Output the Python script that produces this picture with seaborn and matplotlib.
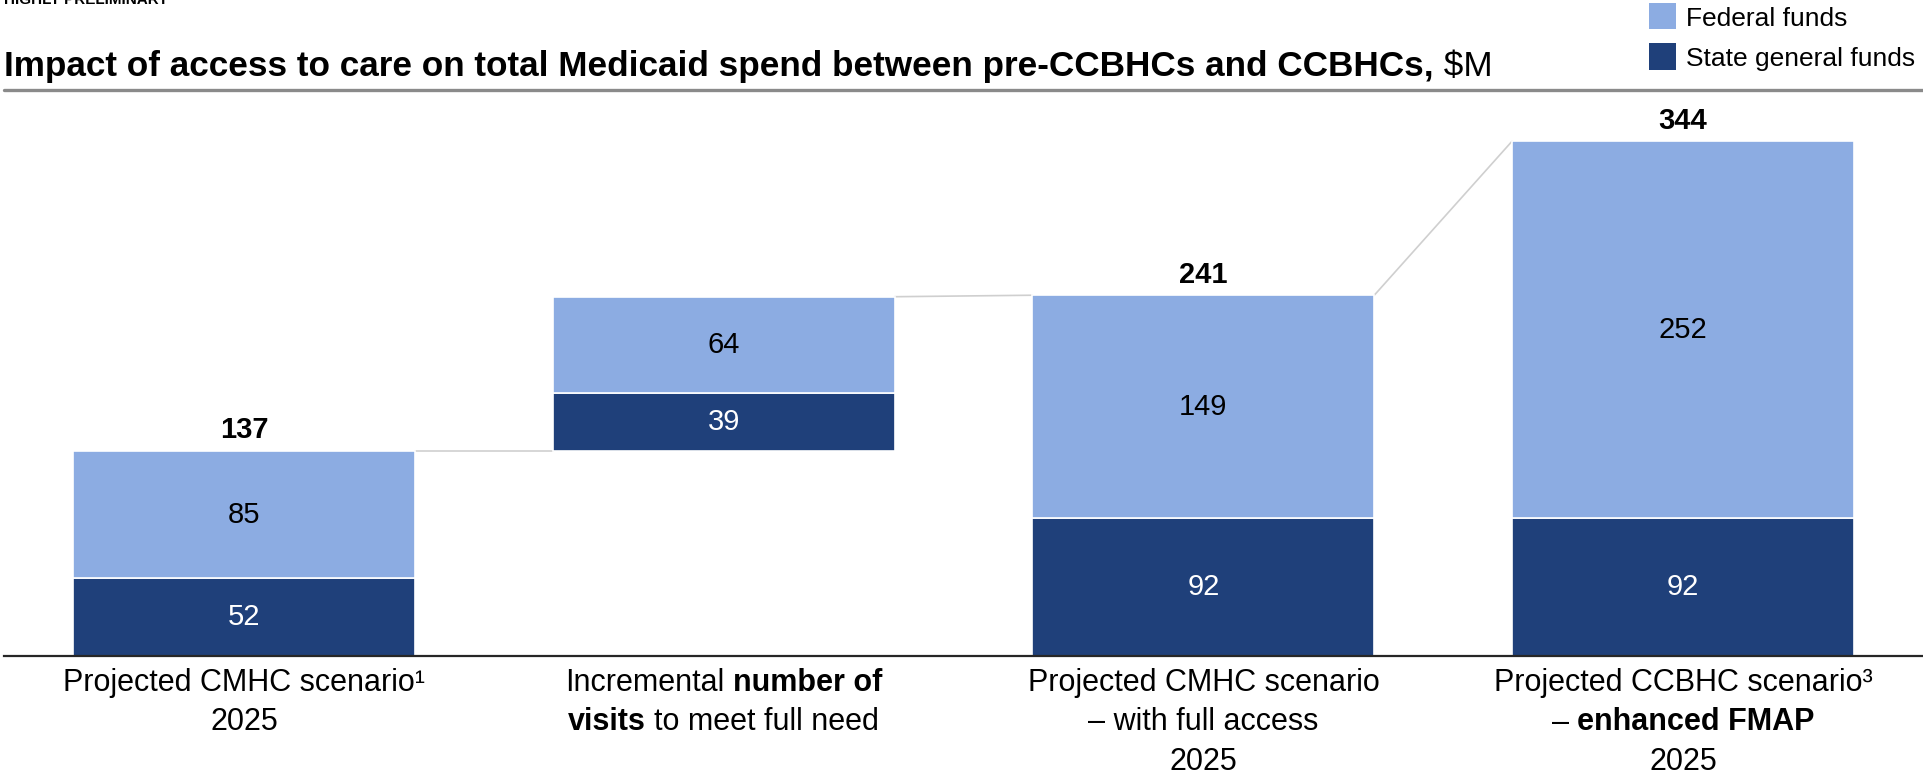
import matplotlib
matplotlib.use("Agg")
import matplotlib.pyplot as plt
import pandas as pd
import seaborn as sns
from matplotlib.patches import Rectangle
from matplotlib.lines import Line2D

# ---- data -------------------------------------------------------------
categories = ["cmhc_2025", "incremental_visits", "cmhc_full_access", "ccbhc_enhanced_fmap"]
state_funds = [52, 39, 92, 92]
federal_funds = [85, 64, 149, 252]
bar_base = [0, 137, 0, 0]            # floating start of the incremental bar
total_labels = ["137", "", "241", "344"]

category_labels = [
    [[("Projected CMHC scenario¹", False)], [("2025", False)]],
    [[("Incremental ", False), ("number of", True)],
     [("visits", True), (" to meet full need", False)]],
    [[("Projected CMHC scenario", False)], [("– with full access", False)], [("2025", False)]],
    [[("Projected CCBHC scenario³", False)], [("– ", False), ("enhanced FMAP", True)], [("2025", False)]],
]

title_bold = "Impact of access to care on total Medicaid spend between pre-CCBHCs and CCBHCs,"
title_unit = " $M"
legend_labels = ["Federal funds", "State general funds"]

# ---- style ------------------------------------------------------------
LIGHT = "#8CACE2"
DARK = "#1F407A"
sns.set_theme(style="white")
plt.rcParams["font.family"] = ["Liberation Sans", "DejaVu Sans"]

W, H, DPI = 1923, 776, 100
fig = plt.figure(figsize=(W / DPI, H / DPI), dpi=DPI)
renderer = fig.canvas.get_renderer()

BASE_Y = 656          # pixel row of the zero line
PX_PER_UNIT = 1.497
Y_MAX = 380
ax_left = 4 / W
ax_bottom = (H - BASE_Y) / H
ax_height = Y_MAX * PX_PER_UNIT / H
ax = fig.add_axes([ax_left, ax_bottom, 1 - ax_left, ax_height])

df = pd.DataFrame({
    "category": categories,
    "state": state_funds,
    "federal": federal_funds,
    "base": bar_base,
})
df["federal_base"] = df["base"] + df["state"]
df["top"] = df["federal_base"] + df["federal"]

BAR_W = 0.7125
sns.barplot(data=df, x="category", y="state", order=categories, bottom=df["base"].values,
            color=DARK, saturation=1, width=BAR_W, edgecolor="white", linewidth=1.2,
            ax=ax)
sns.barplot(data=df, x="category", y="federal", order=categories, bottom=df["federal_base"].values,
            color=LIGHT, saturation=1, width=BAR_W, edgecolor="white", linewidth=1.2,
            ax=ax)

ax.set_xlim(-0.5, len(categories) - 0.5)
ax.set_ylim(0, Y_MAX)
ax.set_xlabel("")
ax.set_ylabel("")
ax.set_xticks([])
ax.set_yticks([])
for side in ["top", "right", "left"]:
    ax.spines[side].set_visible(False)
ax.spines["bottom"].set_color("#262626")
ax.spines["bottom"].set_linewidth(1.6)

VAL_FS = 21
# segment values
for i, row in df.iterrows():
    ax.text(i, row["base"] + row["state"] / 2, f"{row['state']}", ha="center", va="center",
            fontsize=VAL_FS, color="white")
    ax.text(i, row["federal_base"] + row["federal"] / 2, f"{row['federal']}", ha="center",
            va="center", fontsize=VAL_FS, color="black")
    if total_labels[i]:
        ax.annotate(total_labels[i], xy=(i, row["top"]), xytext=(0, 9), textcoords="offset points",
                    ha="center", va="baseline", fontsize=VAL_FS, fontweight="bold", color="black")

# connectors between consecutive bars
half = BAR_W / 2
for i in range(len(categories) - 1):
    nxt = df.iloc[i + 1]
    y0 = df.iloc[i]["top"]
    y1 = nxt["base"] if nxt["base"] > 0 else nxt["top"]
    ax.add_line(Line2D([i + half, i + 1 - half], [y0, y1], color="#CFCFCF", lw=1.2, zorder=0))

# category labels below the axis (mixed bold/regular runs)
CAT_FS = 22
SPACE_PX = 0.278 * CAT_FS * DPI / 72


def run_width(s, bold):
    t = fig.text(0, 0, s, fontsize=CAT_FS, fontweight="bold" if bold else "normal")
    w = t.get_window_extent(renderer).width
    t.remove()
    return w


LINE1_BASE = 35      # px below the axis line for the first baseline
LINE_STEP = 39.5
for i, lines in enumerate(category_labels):
    for j, runs in enumerate(lines):
        pieces = []
        for s, bold in runs:
            lead = len(s) - len(s.lstrip(" "))
            trail = len(s) - len(s.rstrip(" "))
            core = s.strip(" ")
            pieces.append((core, bold, lead * SPACE_PX, run_width(core, bold), trail * SPACE_PX))
        total = sum(p[2] + p[3] + p[4] for p in pieces)
        x = -total / 2
        yoff = -(LINE1_BASE + j * LINE_STEP)
        for core, bold, lead, w, trail in pieces:
            x += lead
            ax.annotate(core, xy=(i, 0), xycoords=("data", "axes fraction"),
                        xytext=(x, yoff), textcoords="offset pixels", ha="left", va="baseline",
                        fontsize=CAT_FS, fontweight="bold" if bold else "normal", color="black",
                        annotation_clip=False)
            x += w + trail

# title and rule
TITLE_FS = 25.3
TITLE_BASE = 76
tb = fig.text(4 / W, 1 - TITLE_BASE / H, title_bold, fontsize=TITLE_FS, fontweight="bold",
              ha="left", va="baseline", color="black")
tw = tb.get_window_extent(renderer).width
fig.text((4 + tw) / W, 1 - TITLE_BASE / H, title_unit, fontsize=TITLE_FS, ha="left",
         va="baseline", color="black")
fig.add_artist(Line2D([4 / W, 1.0], [1 - 89.5 / H, 1 - 89.5 / H], color="#8A8A8A", lw=2.4,
                      transform=fig.transFigure))

# status stamp, partially cropped at the top edge
fig.text(4 / W, 1 - 4 / H, "HIGHLY PRELIMINARY", fontsize=11, fontweight="bold",
         ha="left", va="baseline", color="black")

# legend
LEG_FS = 19
for k, (lab, col) in enumerate(zip(legend_labels, [LIGHT, DARK])):
    top_px = 2.5 + k * 40.5
    fig.add_artist(Rectangle((1649 / W, 1 - (top_px + 26.5) / H), 27 / W, 26.5 / H,
                             facecolor=col, edgecolor="none", transform=fig.transFigure))
    fig.text(1686 / W, 1 - (top_px + 13.5) / H, lab, fontsize=LEG_FS, ha="left",
             va="center_baseline", color="black")

fig.savefig("out.png", dpi=DPI)
